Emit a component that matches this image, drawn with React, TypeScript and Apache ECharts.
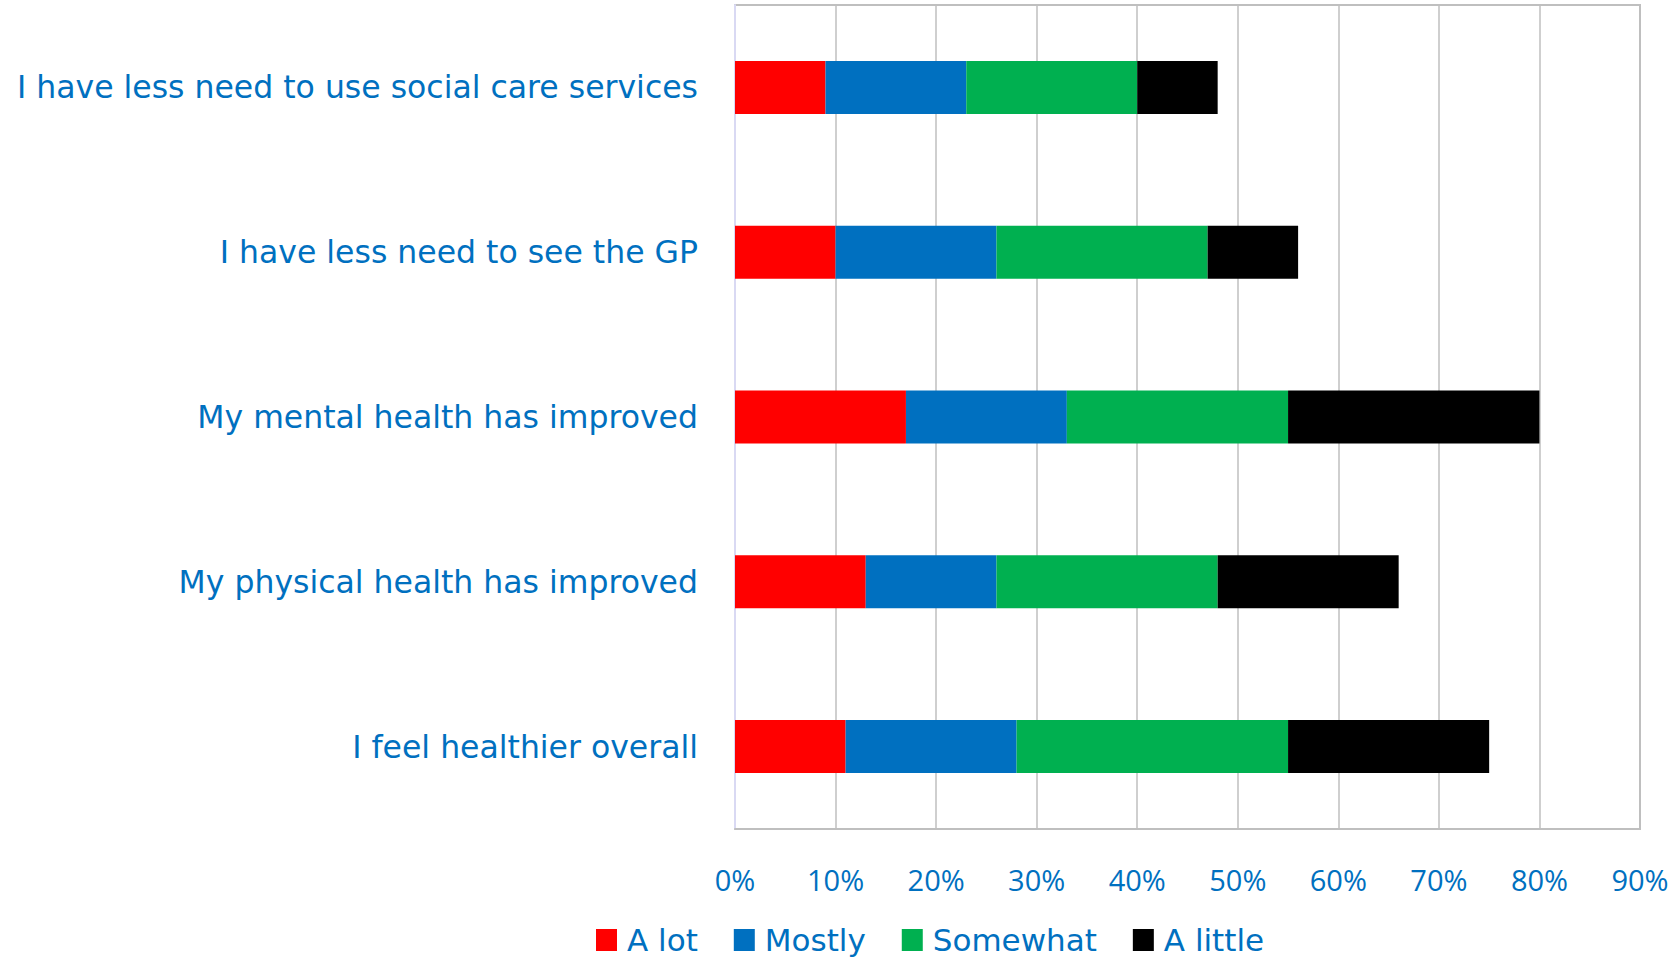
import React, { useEffect, useRef } from "react";
import * as echarts from "echarts";

const categories = [
  "I have less need to use social care services",
  "I have less need to see the GP",
  "My mental health has improved",
  "My physical health has improved",
  "I feel healthier overall",
];
const seriesNames = ["A lot", "Mostly", "Somewhat", "A little"];
const aLot = [9, 10, 17, 13, 11];
const mostly = [14, 16, 16, 13, 17];
const somewhat = [17, 21, 22, 22, 27];
const aLittle = [8, 9, 25, 18, 20];
const xTicks = [0, 10, 20, 30, 40, 50, 60, 70, 80, 90];

const colors = ["#FF0000", "#0070C0", "#00B050", "#000000"];
const FONT = "'DejaVu Sans', sans-serif";
const TICK_FONT = "'Open Sans', sans-serif";
const TEXT = "#0070C0";

export default function App() {
  const ref = useRef<HTMLDivElement>(null);
  useEffect(() => {
    if (!ref.current) return;
    const chart = echarts.init(ref.current, null, { renderer: "svg" });
    const values = [aLot, mostly, somewhat, aLittle];
    chart.setOption({
      animation: false,
      textStyle: { fontFamily: FONT },
      grid: {
        left: 735,
        right: 35,
        top: 5,
        bottom: 129,
        show: true,
        borderColor: "#BFBFBF",
        borderWidth: 2,
      },
      legend: {
        left: 596,
        top: 923,
        padding: 0,
        itemWidth: 21,
        itemHeight: 22,
        itemGap: 36,
        icon: "rect",
        textStyle: {
          color: TEXT,
          fontSize: 31,
          fontFamily: FONT,
          lineHeight: 34,
          padding: [0, 0, 0, 5],
        },
        data: seriesNames,
      },
      xAxis: {
        type: "value",
        min: xTicks[0],
        max: xTicks[xTicks.length - 1],
        interval: 10,
        axisLine: { show: true, lineStyle: { color: "#BFBFBF", width: 2 } },
        axisTick: { show: false },
        splitLine: { show: true, lineStyle: { color: "#BFBFBF", width: 1.5 } },
        axisLabel: {
          color: TEXT,
          fontSize: 29,
          fontFamily: TICK_FONT,
          margin: 36,
          formatter: (v: number) => `${v}%`,
        },
      },
      yAxis: {
        type: "category",
        data: categories,
        inverse: true,
        axisLine: { show: true, lineStyle: { color: "#D9D9F3", width: 2 } },
        axisTick: { show: false },
        axisLabel: { color: TEXT, fontSize: 31.5, fontFamily: FONT, margin: 37 },
      },
      series: seriesNames.map((name, i) => ({
        name,
        type: "bar",
        stack: "total",
        barWidth: 53,
        itemStyle: { color: colors[i] },
        data: values[i],
      })),
    });
    return () => chart.dispose();
  }, []);
  return (
    <div
      ref={ref}
      style={{ position: "fixed", left: 0, top: 0, width: 1675, height: 958, background: "#fff" }}
    />
  );
}
